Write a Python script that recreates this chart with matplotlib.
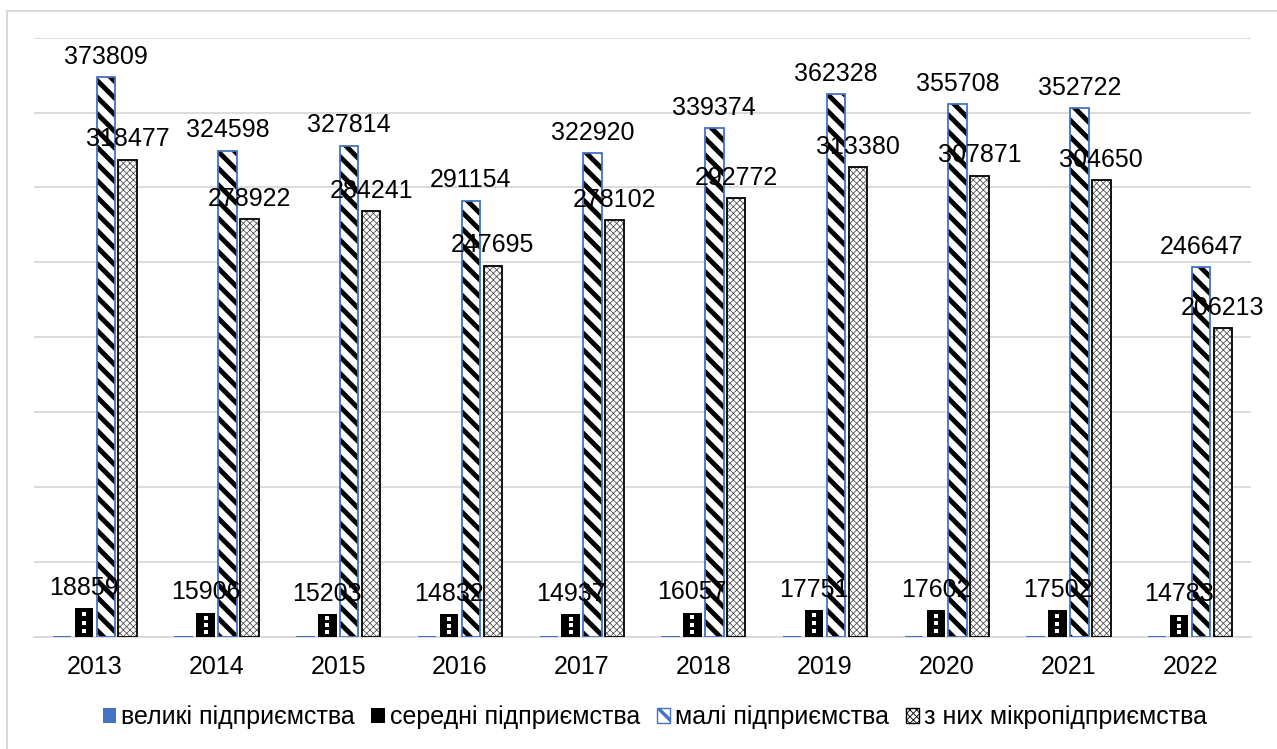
import numpy as np
import matplotlib as mpl
import matplotlib.pyplot as plt
from matplotlib.patches import Rectangle

plt.rcParams['font.family'] = ['Liberation Sans', 'DejaVu Sans']

# data
years = ['2013', '2014', '2015', '2016', '2017', '2018', '2019', '2020', '2021', '2022']
large = [659, 497, 423, 383, 399, 446, 512, 485, 518, 454]
medium = [18859, 15906, 15203, 14832, 14937, 16057, 17751, 17602, 17502, 14783]
small = [373809, 324598, 327814, 291154, 322920, 339374, 362328, 355708, 352722, 246647]
micro = [318477, 278922, 284241, 247695, 278102, 292772, 313380, 307871, 304650, 206213]

names = ['великі підприємства', 'середні підприємства', 'малі підприємства',
         'з них мікропідприємства']

fig = plt.figure(figsize=(12.77, 7.49), dpi=100)
ax = fig.add_axes([0.0266, 0.15, 0.953, 0.7997])

# light frame round the chart (right/bottom edges fall outside)
fig.patches.append(Rectangle((7 / 1277, -0.05), 1.2, 1 - 11 / 749 + 0.05,
                             transform=fig.transFigure, fill=False,
                             edgecolor='#d9d9d9', linewidth=1.5, zorder=0))

x = np.arange(len(years))
w = 0.152
step = 0.18
offs = [-1.5 * step, -0.5 * step, 0.5 * step, 1.5 * step]

b_large = ax.bar(x + offs[0], large, w, color='#4472c4', zorder=3)

b_med = ax.bar(x + offs[1], medium, w, color='black', zorder=3)
# column of small white dots on the medium bars
for frac in [0.2, 0.5, 0.8]:
    ax.plot(x + offs[1], np.array(medium) * frac, 's', color='white',
            markersize=2.2, markeredgewidth=0, zorder=4)

# hatch width is fixed when the bars are made
with mpl.rc_context({'hatch.linewidth': 3.5}):
    b_small = ax.bar(x + offs[2], small, w, color='white', edgecolor='black',
                     linewidth=0, hatch='\\\\', zorder=3)
ax.bar(x + offs[2], small, w, fill=False, edgecolor='#4472c4', linewidth=1.3, zorder=4)

with mpl.rc_context({'hatch.linewidth': 0.6}):
    b_micro = ax.bar(x + offs[3], micro, w, color='white', edgecolor='#555555',
                     linewidth=0, hatch='xxxxx', zorder=3)
ax.bar(x + offs[3], micro, w, fill=False, edgecolor='black', linewidth=1.3, zorder=4)

# value labels
for bars, vals in [(b_med, medium), (b_small, small), (b_micro, micro)]:
    for p, v in zip(bars, vals):
        ax.annotate(str(v), (p.get_x() + p.get_width() / 2, v),
                    xytext=(0, 6), textcoords='offset points',
                    ha='center', va='bottom', fontsize=18, color='black', zorder=6)

ax.set_xlim(-0.5, len(years) - 0.5)
ax.set_ylim(0, 400000)
ax.set_yticks(np.arange(0, 400001, 50000))
ax.set_yticklabels([])
ax.tick_params(axis='y', length=0)
ax.set_xticks(x)
ax.set_xticklabels(years, fontsize=18)
ax.tick_params(axis='x', length=0, pad=13)
ax.grid(axis='y', color='#d9d9d9', linewidth=1.3, zorder=0)
ax.set_axisbelow(True)
for s in ['left', 'right', 'top']:
    ax.spines[s].set_visible(False)
ax.spines['bottom'].set_color('#d9d9d9')
ax.spines['bottom'].set_linewidth(1.3)

handles = [b_large[0], b_med[0], b_small[0], b_micro[0]]
leg = fig.legend(handles, names, loc='center', bbox_to_anchor=(0.513, 1 - 717 / 749),
                 ncol=4, frameon=False, fontsize=18, handlelength=0.55,
                 handleheight=0.55, handletextpad=0.2, columnspacing=0.65)
for h, lw in zip(leg.legend_handles, [1.0, 0.8, 2.5, 0.6]):
    if hasattr(h, 'set_hatch_linewidth'):
        h.set_hatch_linewidth(lw)
leg.legend_handles[2].set_edgecolor('#4472c4')
leg.legend_handles[2].set_linewidth(1.0)
leg.legend_handles[3].set_edgecolor('black')
leg.legend_handles[3].set_linewidth(1.0)

fig.savefig('out.png', dpi=100)
